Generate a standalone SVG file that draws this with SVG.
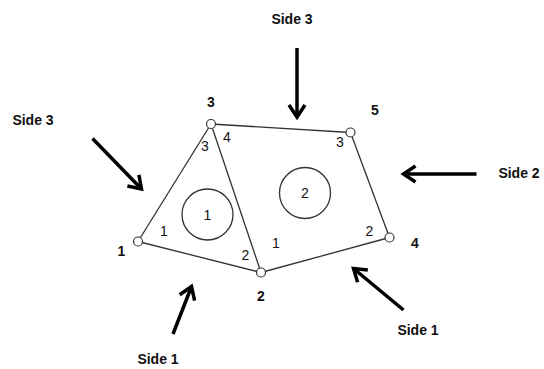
<svg xmlns="http://www.w3.org/2000/svg" width="544" height="369" viewBox="0 0 544 369">
<defs>
<style>
.edge{stroke:#333;stroke-width:1.3;fill:none}
.node{fill:#fff;stroke:#333;stroke-width:1.2}
.elem{fill:none;stroke:#333;stroke-width:1.3}
.arrow{stroke:#000;stroke-width:3.5;fill:none;marker-end:url(#ah)}
.side{font-family:"Liberation Sans",Arial,sans-serif;font-weight:bold;font-size:14px;fill:#111;text-anchor:middle}
.nlab{font-family:"Liberation Sans",Arial,sans-serif;font-weight:bold;font-size:14px;fill:#111;text-anchor:middle}
.loc{font-family:"Liberation Sans",Arial,sans-serif;font-size:14px;fill:#111;text-anchor:middle}
</style>
<marker id="ah" viewBox="-16 -12 20 24" refX="0" refY="0" markerWidth="20" markerHeight="24" markerUnits="userSpaceOnUse" orient="auto">
<path d="M-12,-8 L0,0 L-12,8" stroke="#000" stroke-width="3.5" fill="none" stroke-linejoin="miter"/>
</marker>
</defs>
<g id="connectors">
<line class="edge" x1="138" y1="241.5" x2="211" y2="124"/>
<line class="edge" x1="211" y1="124" x2="261" y2="272.5"/>
<line class="edge" x1="138" y1="241.5" x2="261" y2="272.5"/>
<line class="edge" x1="211" y1="124" x2="350.5" y2="132.5"/>
<line class="edge" x1="350.5" y1="132.5" x2="389.5" y2="237.5"/>
<line class="edge" x1="389.5" y1="237.5" x2="261" y2="272.5"/>
</g>
<g id="element1"><circle class="elem" cx="207.5" cy="214.5" r="25.5"/><text class="loc" x="207.5" y="219.5">1</text></g>
<g id="element2"><circle class="elem" cx="305" cy="193" r="25.5"/><text class="loc" x="305" y="198">2</text></g>
<g id="node1"><circle class="node" cx="138" cy="241.5" r="4.5"/><text class="nlab" x="121.5" y="255.5">1</text></g>
<g id="node2"><circle class="node" cx="261" cy="272.5" r="4.5"/><text class="nlab" x="261" y="300.5">2</text></g>
<g id="node3"><circle class="node" cx="211" cy="124" r="4.5"/><text class="nlab" x="211" y="107">3</text></g>
<g id="node4"><circle class="node" cx="389.5" cy="237.5" r="4.5"/><text class="nlab" x="415" y="247.5">4</text></g>
<g id="node5"><circle class="node" cx="350.5" cy="132.5" r="4.5"/><text class="nlab" x="375" y="115">5</text></g>
<g id="local-labels">
<text class="loc" x="205" y="150.5">3</text>
<text class="loc" x="227" y="142">4</text>
<text class="loc" x="164" y="235.5">1</text>
<text class="loc" x="245.5" y="259.5">2</text>
<text class="loc" x="276" y="248">1</text>
<text class="loc" x="340" y="147">3</text>
<text class="loc" x="369.5" y="235.5">2</text>
</g>
<g id="loads">
<line class="arrow" x1="297" y1="48" x2="297" y2="117"/>
<line class="arrow" x1="92.5" y1="138.5" x2="141.5" y2="189"/>
<line class="arrow" x1="476.5" y1="174" x2="403.5" y2="174"/>
<line class="arrow" x1="173" y1="334" x2="191.5" y2="286.5"/>
<line class="arrow" x1="403.5" y1="310" x2="353.5" y2="268.5"/>
<text class="side" x="292" y="23.5">Side 3</text>
<text class="side" x="33" y="125">Side 3</text>
<text class="side" x="519" y="177.5">Side 2</text>
<text class="side" x="158" y="364">Side 1</text>
<text class="side" x="418" y="335">Side 1</text>
</g>
</svg>
